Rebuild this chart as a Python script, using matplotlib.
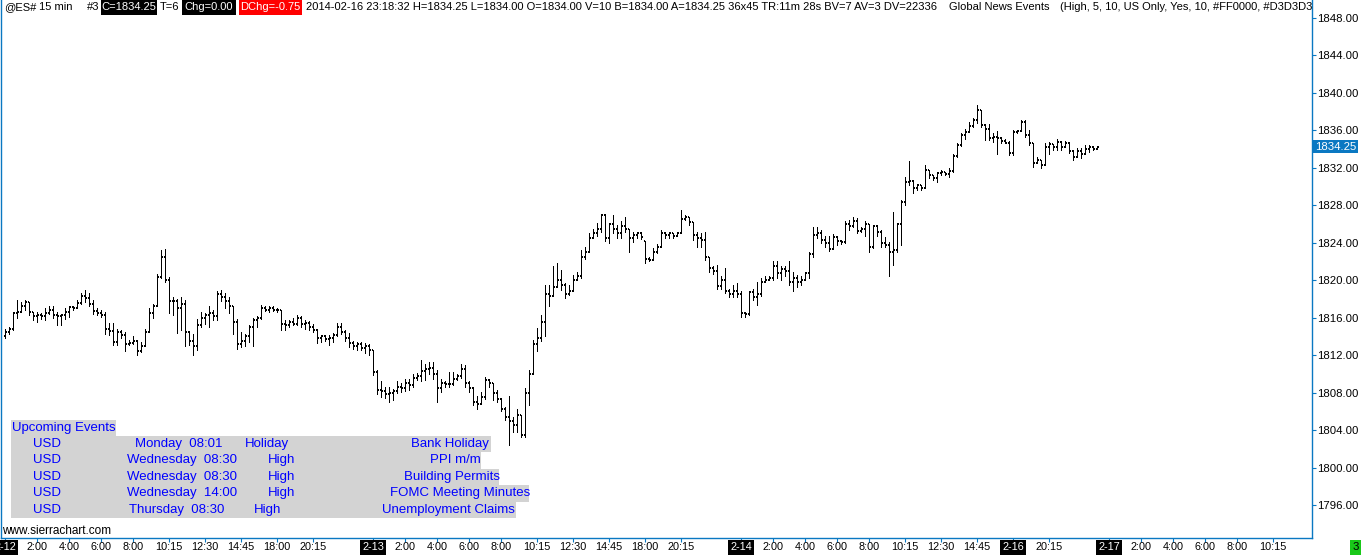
import matplotlib
matplotlib.use('Agg')
import matplotlib.pyplot as plt
from matplotlib.collections import LineCollection
from matplotlib.patches import Rectangle
import matplotlib.transforms as mtransforms

plt.rcParams['font.family'] = ['Liberation Sans', 'DejaVu Sans']

# ---------------- data (15-min bars, ES#) ----------------
bar_open = [
 1814.0, 1814.5, 1814.8, 1816.5, 1816.6, 1817.3, 1817.7, 1816.6, 1816.2, 1816.3,
 1816.2, 1816.5, 1816.8, 1816.3, 1816.2, 1816.3, 1816.6, 1817.1, 1817.0, 1817.6,
 1818.3, 1818.1, 1817.5, 1816.7, 1816.5, 1816.3, 1814.8, 1814.6, 1813.4, 1814.5,
 1814.1, 1813.2, 1813.3, 1813.5, 1812.4, 1813.0, 1814.5, 1816.5, 1817.2, 1820.3,
 1822.5, 1820.0, 1817.8, 1817.8, 1817.0, 1817.5, 1814.5, 1813.5, 1813.0, 1815.2,
 1816.0, 1816.3, 1816.5, 1816.2, 1818.5, 1818.2, 1817.8, 1817.2, 1815.5, 1813.2,
 1813.5, 1814.0, 1815.0, 1815.7, 1816.0, 1817.0, 1816.8, 1817.0, 1816.8, 1816.8,
 1815.3, 1815.2, 1815.5, 1815.3, 1816.0, 1815.3, 1815.4, 1815.0, 1814.7, 1813.8,
 1814.0, 1813.7, 1813.8, 1814.2, 1815.0, 1814.5, 1813.8, 1813.3, 1813.0, 1813.2,
 1812.8, 1813.0,
 1812.5, 1810.2, 1808.3, 1808.2, 1807.8, 1808.0, 1808.2, 1808.6,
 1808.5, 1809.0, 1808.8, 1809.6, 1809.8, 1810.3, 1810.5, 1810.6, 1810.0, 1808.5,
 1809.0, 1808.9, 1808.9, 1809.5, 1809.8, 1810.5, 1809.0, 1808.5, 1807.0, 1806.8,
 1807.5, 1809.3, 1809.0, 1808.0, 1807.3, 1806.3, 1805.4, 1805.0, 1804.5, 1805.6,
 1803.5, 1808.0, 1810.0, 1813.2, 1813.8, 1815.5, 1818.5, 1818.3, 1819.3, 1820.0,
 1819.5, 1818.5, 1818.8, 1820.0, 1820.5, 1822.5, 1823.0, 1824.5, 1825.0, 1825.5,
 1827.0, 1824.5, 1826.0, 1825.5, 1825.0, 1825.8, 1825.5, 1824.5, 1824.8, 1825.0,
 1824.2, 1822.3, 1822.2, 1823.0, 1823.5, 1825.0, 1824.8, 1825.0, 1824.7, 1825.0,
 1826.5, 1826.8, 1826.2, 1824.8, 1824.5, 1824.3, 1822.5, 1821.3, 1821.0, 1819.4,
 1820.0, 1818.8, 1818.5, 1818.8,
 1818.5, 1816.5, 1816.4, 1818.7, 1818.2, 1818.5,
 1819.8, 1820.0, 1820.2, 1821.5, 1820.8, 1821.2, 1821.0, 1819.8, 1820.2, 1819.8,
 1820.0, 1820.8, 1822.8, 1824.8, 1825.0, 1824.3, 1824.0, 1823.3, 1824.6, 1824.2,
 1824.1, 1826.0, 1825.8, 1826.3, 1825.3, 1825.5, 1826.0, 1823.5, 1825.8, 1825.2,
 1824.0, 1823.8, 1823.0, 1823.2, 1826.0, 1828.4, 1830.5, 1830.6, 1829.8, 1830.2,
 1829.8, 1831.8, 1831.2, 1830.9, 1831.4, 1831.6, 1831.3, 1831.7, 1833.3, 1834.4,
 1835.5, 1835.8, 1836.5, 1837.1, 1838.2, 1836.6, 1836.2, 1835.2, 1835.3, 1835.2,
 1834.9, 1834.7,
 1833.6, 1835.8, 1835.9, 1836.9, 1835.5, 1834.6, 1832.5, 1832.8,
 1832.3, 1834.2, 1834.5, 1834.2, 1834.8, 1834.2, 1834.6, 1833.8, 1833.2, 1833.8,
 1833.5, 1834.0, 1834.2, 1834.0,
]
bar_high = [
 1814.8, 1815.0, 1816.6, 1817.9, 1817.7, 1817.9, 1817.7, 1816.6, 1816.6, 1816.5,
 1817.0, 1817.3, 1817.2, 1816.6, 1816.4, 1817.0, 1817.3, 1817.3, 1817.9, 1818.6,
 1819.0, 1818.6, 1817.9, 1817.0, 1816.8, 1816.6, 1815.4, 1815.4, 1814.8, 1814.7,
 1814.5, 1813.6, 1814.0, 1813.6, 1813.4, 1814.8, 1817.0, 1817.5, 1820.7, 1823.2,
 1823.3, 1820.3, 1818.2, 1818.0, 1818.2, 1817.9, 1814.6, 1814.3, 1815.9, 1816.6,
 1816.5, 1817.3, 1816.8, 1818.8, 1819.0, 1818.6, 1818.2, 1817.2, 1815.9, 1814.5,
 1814.3, 1815.2, 1816.0, 1816.2, 1817.4, 1817.3, 1817.2, 1817.2, 1817.0, 1816.8,
 1815.8, 1815.8, 1816.0, 1816.3, 1816.2, 1815.7, 1815.6, 1815.3, 1814.8, 1814.2,
 1814.2, 1814.2, 1814.4, 1815.4, 1815.4, 1814.7, 1814.4, 1813.5, 1813.4, 1813.4,
 1813.3, 1813.2,
 1812.6, 1810.4, 1809.2, 1808.6, 1808.6, 1808.4, 1809.2, 1809.0,
 1809.5, 1809.5, 1810.0, 1810.1, 1811.5, 1811.1, 1811.3, 1811.3, 1810.4, 1809.5,
 1809.2, 1810.2, 1810.2, 1810.0, 1811.1, 1810.9, 1809.2, 1808.6, 1807.6, 1808.1,
 1809.7, 1809.5, 1809.0, 1808.3, 1807.4, 1806.5, 1807.6, 1805.4, 1806.3, 1805.6,
 1808.5, 1810.4, 1813.6, 1814.9, 1816.3, 1819.5, 1819.5, 1821.5, 1821.8, 1821.1,
 1819.7, 1819.5, 1820.6, 1820.9, 1823.2, 1823.6, 1825.0, 1825.5, 1826.1, 1827.1,
 1827.1, 1826.1, 1827.0, 1825.9, 1826.3, 1826.8, 1825.5, 1825.2, 1825.2, 1825.2,
 1824.2, 1822.5, 1823.4, 1823.9, 1825.4, 1825.2, 1825.1, 1825.0, 1825.2, 1827.5,
 1827.0, 1826.8, 1826.2, 1825.2, 1825.0, 1825.2, 1822.5, 1821.5, 1821.6, 1820.4,
 1821.3, 1819.1, 1819.5, 1819.7,
 1818.8, 1816.6, 1818.9, 1819.1, 1819.8, 1820.2,
 1820.4, 1820.4, 1822.0, 1822.0, 1821.5, 1821.5, 1822.0, 1820.9, 1820.6, 1820.4,
 1820.9, 1823.0, 1825.7, 1825.7, 1825.4, 1824.7, 1824.7, 1824.9, 1824.7, 1824.3,
 1826.3, 1826.4, 1826.8, 1826.6, 1825.7, 1826.3, 1826.0, 1825.9, 1825.9, 1825.4,
 1824.6, 1824.1, 1827.3, 1826.1, 1828.6, 1831.0, 1832.7, 1830.7, 1830.3, 1830.2,
 1832.3, 1831.8, 1831.2, 1831.6, 1831.8, 1831.6, 1832.0, 1833.5, 1834.6, 1835.7,
 1836.2, 1836.9, 1837.3, 1838.7, 1838.2, 1836.7, 1836.7, 1835.7, 1835.9, 1835.3,
 1835.1, 1834.9,
 1836.0, 1836.0, 1837.1, 1837.1, 1836.0, 1834.6, 1833.2, 1832.8,
 1834.6, 1834.8, 1834.5, 1835.1, 1834.9, 1834.9, 1834.8, 1833.9, 1834.1, 1834.1,
 1834.4, 1834.4, 1834.3, 1834.25,
]
bar_low = [
 1813.8, 1814.3, 1814.7, 1816.0, 1816.6, 1816.8, 1816.3, 1815.7, 1815.5, 1815.9,
 1815.7, 1816.4, 1816.0, 1815.2, 1815.2, 1815.9, 1816.1, 1816.8, 1817.0, 1817.5,
 1817.7, 1817.3, 1816.4, 1816.3, 1816.1, 1814.3, 1814.1, 1813.1, 1813.1, 1813.8,
 1812.4, 1813.1, 1813.2, 1812.0, 1812.3, 1813.0, 1814.5, 1816.0, 1817.2, 1820.2,
 1819.8, 1816.5, 1816.3, 1814.4, 1814.7, 1813.0, 1813.1, 1812.0, 1812.6, 1815.0,
 1815.3, 1815.0, 1815.7, 1815.7, 1817.8, 1817.0, 1816.5, 1814.3, 1812.7, 1812.9,
 1813.0, 1813.4, 1813.0, 1815.0, 1815.9, 1816.7, 1816.6, 1816.7, 1816.6, 1814.7,
 1814.7, 1815.0, 1815.2, 1815.2, 1815.0, 1814.8, 1814.7, 1814.5, 1813.3, 1813.4,
 1813.5, 1813.1, 1813.4, 1814.0, 1814.3, 1813.5, 1812.9, 1812.7, 1812.6, 1812.5,
 1812.2, 1812.0,
 1809.9, 1807.8, 1807.5, 1807.4, 1807.0, 1807.2, 1808.0, 1808.1,
 1808.2, 1808.3, 1808.6, 1809.3, 1809.2, 1809.3, 1810.0, 1809.4, 1807.0, 1808.1,
 1808.6, 1808.6, 1808.8, 1809.3, 1809.6, 1808.6, 1808.1, 1806.7, 1806.3, 1806.8,
 1807.3, 1808.6, 1807.2, 1807.0, 1806.0, 1805.1, 1802.4, 1803.8, 1803.8, 1803.3,
 1803.3, 1806.7, 1810.0, 1812.4, 1813.5, 1814.0, 1817.2, 1818.3, 1819.3, 1819.0,
 1818.1, 1818.4, 1818.8, 1820.0, 1820.2, 1822.3, 1823.0, 1824.5, 1824.7, 1825.2,
 1824.2, 1824.0, 1825.0, 1824.5, 1824.5, 1825.2, 1823.0, 1824.1, 1824.5, 1824.4,
 1821.8, 1822.0, 1822.2, 1822.9, 1823.5, 1824.5, 1824.5, 1824.5, 1824.7, 1825.0,
 1826.4, 1825.9, 1824.3, 1823.6, 1823.6, 1822.2, 1820.9, 1820.7, 1819.1, 1819.1,
 1818.6, 1818.2, 1818.2, 1818.2,
 1816.1, 1816.1, 1816.3, 1817.9, 1817.4, 1818.3,
 1819.8, 1820.0, 1820.0, 1820.2, 1820.0, 1820.4, 1819.5, 1818.8, 1819.3, 1819.5,
 1820.0, 1820.2, 1822.5, 1824.5, 1824.0, 1823.6, 1823.1, 1823.3, 1823.8, 1823.9,
 1824.0, 1825.4, 1825.7, 1825.0, 1825.2, 1824.7, 1823.0, 1823.4, 1824.7, 1823.6,
 1823.6, 1820.5, 1821.6, 1823.0, 1823.8, 1828.0, 1830.2, 1829.3, 1829.6, 1829.6,
 1829.8, 1830.9, 1830.7, 1830.5, 1831.2, 1831.2, 1831.0, 1831.6, 1833.2, 1834.3,
 1835.1, 1835.8, 1836.4, 1836.8, 1836.4, 1835.0, 1835.0, 1834.8, 1833.5, 1834.6,
 1834.6, 1833.4,
 1833.4, 1835.7, 1835.9, 1835.3, 1834.4, 1832.1, 1832.5, 1832.0,
 1832.3, 1833.5, 1833.9, 1833.9, 1833.9, 1834.2, 1833.6, 1832.8, 1833.2, 1833.0,
 1833.5, 1833.7, 1833.9, 1834.0,
]
bar_close = [
 1814.5, 1814.8, 1816.5, 1816.6, 1817.3, 1817.7, 1816.6, 1816.2, 1816.3, 1816.2,
 1816.5, 1816.8, 1816.3, 1816.2, 1816.3, 1816.6, 1817.1, 1817.0, 1817.6, 1818.3,
 1818.1, 1817.5, 1816.7, 1816.5, 1816.3, 1814.8, 1814.6, 1813.4, 1814.5, 1814.1,
 1813.2, 1813.3, 1813.5, 1812.4, 1813.0, 1814.5, 1816.5, 1817.2, 1820.3, 1822.5,
 1820.0, 1817.8, 1817.8, 1817.0, 1817.5, 1814.5, 1813.5, 1813.0, 1815.2, 1816.0,
 1816.3, 1816.5, 1816.2, 1818.5, 1818.2, 1817.8, 1817.2, 1815.5, 1813.2, 1813.5,
 1814.0, 1815.0, 1815.7, 1816.0, 1817.0, 1816.8, 1817.0, 1816.8, 1816.8, 1815.3,
 1815.2, 1815.5, 1815.3, 1816.0, 1815.3, 1815.4, 1815.0, 1814.7, 1813.8, 1814.0,
 1813.7, 1813.8, 1814.2, 1815.0, 1814.5, 1813.8, 1813.3, 1813.0, 1813.2, 1812.8,
 1813.0, 1812.5,
 1810.2, 1808.3, 1808.2, 1807.8, 1808.0, 1808.2, 1808.6, 1808.5,
 1809.0, 1808.8, 1809.6, 1809.8, 1810.3, 1810.5, 1810.6, 1810.0, 1808.5, 1809.0,
 1808.9, 1808.9, 1809.5, 1809.8, 1810.5, 1809.0, 1808.5, 1807.0, 1806.8, 1807.5,
 1809.3, 1809.0, 1808.0, 1807.3, 1806.3, 1805.4, 1805.0, 1804.5, 1805.6, 1803.5,
 1808.0, 1810.0, 1813.2, 1813.8, 1815.5, 1818.5, 1818.3, 1819.3, 1820.0, 1819.5,
 1818.5, 1818.8, 1820.0, 1820.5, 1822.5, 1823.0, 1824.5, 1825.0, 1825.5, 1827.0,
 1824.5, 1826.0, 1825.5, 1825.0, 1825.8, 1825.5, 1824.5, 1824.8, 1825.0, 1824.6,
 1822.3, 1822.2, 1823.0, 1823.5, 1825.0, 1824.8, 1825.0, 1824.7, 1825.0, 1826.5,
 1826.8, 1826.2, 1824.8, 1824.5, 1824.3, 1822.5, 1821.3, 1821.0, 1819.4, 1820.0,
 1818.8, 1818.5, 1818.8, 1818.5,
 1816.5, 1816.4, 1818.7, 1818.2, 1818.5, 1819.8,
 1820.0, 1820.2, 1821.5, 1820.8, 1821.2, 1821.0, 1819.8, 1820.2, 1819.8, 1820.0,
 1820.8, 1822.8, 1824.8, 1825.0, 1824.3, 1824.0, 1823.3, 1824.6, 1824.2, 1824.1,
 1826.0, 1825.8, 1826.3, 1825.3, 1825.5, 1826.0, 1823.5, 1825.8, 1825.2, 1824.0,
 1823.8, 1823.0, 1823.2, 1826.0, 1828.4, 1830.5, 1830.6, 1829.8, 1830.2, 1829.8,
 1831.8, 1831.2, 1830.9, 1831.4, 1831.6, 1831.3, 1831.7, 1833.3, 1834.4, 1835.5,
 1835.8, 1836.5, 1837.1, 1838.2, 1836.6, 1836.2, 1835.2, 1835.3, 1835.2, 1834.9,
 1834.7, 1833.6,
 1835.8, 1835.9, 1836.9, 1835.5, 1834.6, 1832.5, 1832.8, 1832.3,
 1834.2, 1834.5, 1834.2, 1834.8, 1834.2, 1834.6, 1833.8, 1833.2, 1833.8, 1833.5,
 1834.0, 1834.2, 1834.0, 1834.25,
]

price_ticks = [1796, 1800, 1804, 1808, 1812, 1816, 1820, 1824, 1828, 1832, 1836, 1840, 1844, 1848]
date_tick_idx = [0, 92, 184, 252, 276]
date_tick_lbl = ['2-12', '2-13', '2-14', '2-16', '2-17']
time_tick_idx = [8, 16, 24, 32, 41, 50, 59, 68, 77,
                 100, 108, 116, 124, 133, 142, 151, 160, 169,
                 192, 200, 208, 216, 225, 234, 243,
                 261,
                 284, 292, 300, 308, 317]
time_tick_lbl = ['2:00', '4:00', '6:00', '8:00', '10:15', '12:30', '14:45', '18:00', '20:15',
                 '2:00', '4:00', '6:00', '8:00', '10:15', '12:30', '14:45', '18:00', '20:15',
                 '2:00', '4:00', '6:00', '8:00', '10:15', '12:30', '14:45',
                 '20:15',
                 '2:00', '4:00', '6:00', '8:00', '10:15']

event_currency = ['USD', 'USD', 'USD', 'USD', 'USD']
event_when = ['Monday  08:01', 'Wednesday  08:30', 'Wednesday  08:30', 'Wednesday  14:00', 'Thursday  08:30']
event_impact = ['Holiday', 'High', 'High', 'High', 'High']
event_title = ['Bank Holiday', 'PPI m/m', 'Building Permits', 'FOMC Meeting Minutes', 'Unemployment Claims']

# ---------------- layout ----------------
W, H = 1362, 556
fig = plt.figure(figsize=(W / 100, H / 100), dpi=100)
fig.patch.set_facecolor('white')
renderer = fig.canvas.get_renderer()
BLUE = '#0a78c2'
TXTBLUE = '#0000ff'
GRAY = '#d3d3d3'

AX_L, AX_R, AX_B = 1, 1312, 538
ax = fig.add_axes([AX_L / W, 1 - AX_B / H, (AX_R - AX_L) / W, AX_B / H])
PX_BAR = 4.0
FIRST_PX = 5.0
xmin = -(FIRST_PX - AX_L) / PX_BAR
ax.set_xlim(xmin, xmin + (AX_R - AX_L) / PX_BAR)
PX_PT = 9.365
ytop = price_ticks[-1] + 18 / PX_PT
ax.set_ylim(ytop - AX_B / PX_PT, ytop)
ax.set_facecolor('white')

n = min(len(bar_open), len(bar_high), len(bar_low), len(bar_close))
wick_segs = [[(i, bar_low[i]), (i, bar_high[i])] for i in range(n)]
tick_segs = []
for i in range(n):
    tick_segs.append([(i - 0.375, bar_open[i]), (i, bar_open[i])])
    tick_segs.append([(i, bar_close[i]), (i + 0.375, bar_close[i])])
ax.add_collection(LineCollection(wick_segs, colors='black', linewidths=0.72,
                                 antialiaseds=False, capstyle='butt'))
ax.add_collection(LineCollection(tick_segs, colors='black', linewidths=1.44,
                                 antialiaseds=False, capstyle='butt'))

ax.spines['top'].set_visible(False)
for side in ['left', 'right', 'bottom']:
    ax.spines[side].set_color(BLUE)
    ax.spines[side].set_linewidth(1.0)

ax.yaxis.tick_right()
ax.set_yticks(price_ticks)
ax.set_yticklabels(['%.2f' % p for p in price_ticks])
ax.tick_params(axis='y', direction='out', length=3, width=0.8, color=BLUE,
               pad=1, labelsize=8.2, labelcolor='black')
ax.set_xticks(date_tick_idx + time_tick_idx)
ax.set_xticklabels([])
ax.tick_params(axis='x', direction='out', length=3, width=0.8, color=BLUE)

blend = mtransforms.blended_transform_factory(ax.transData, fig.transFigure)
LBL_Y = 1 - 547.5 / H
for i, s in zip(time_tick_idx, time_tick_lbl):
    ax.text(i, LBL_Y, s, transform=blend, ha='center', va='center', fontsize=7.8,
            color='black', clip_on=False)
for i, s in zip(date_tick_idx, date_tick_lbl):
    ax.text(i, LBL_Y, s, transform=blend, ha='center', va='center', fontsize=7.8,
            color='white', clip_on=False,
            bbox=dict(boxstyle='square,pad=0.2', fc='black', ec='none'))

# last price marker
blend_y = mtransforms.blended_transform_factory(ax.transAxes, ax.transData)
ax.text(1.0 + 3 / (AX_R - AX_L), bar_close[n - 1], '%.2f' % bar_close[n - 1],
        transform=blend_y, ha='left', va='center', fontsize=8.2, color='white',
        clip_on=False, bbox=dict(boxstyle='square,pad=0.15', fc=BLUE, ec='none'))


def rect(x0, y0, x1, y1, color, z=1):
    fig.add_artist(Rectangle((x0 / W, 1 - y1 / H), (x1 - x0) / W, (y1 - y0) / H,
                             transform=fig.transFigure, facecolor=color,
                             edgecolor='none', zorder=z))


def fit_size(s, width, base=10.0):
    t = fig.text(0, 0, s, fontsize=base)
    w = t.get_window_extent(renderer=renderer).width
    t.remove()
    return base * width / w


def put(s, x, yc, size, color='black', ha='left'):
    return fig.text(x / W, 1 - yc / H, s, fontsize=size, color=color,
                    ha=ha, va='center', zorder=5)


# header line
HY = 7.5
HS = fit_size('2014-02-16 23:18:32 H=1834.25 L=1834.00 O=1834.00 V=10 B=1834.00 '
              'A=1834.25 36x45 TR:11m 28s BV=7 AV=3 DV=22336', 937 - 306)
rect(101, 0, 157, 15, 'black')
rect(182, 0, 236, 15, 'black')
rect(239, 0, 302, 15, '#ff0000')
put('@ES#', 4, HY, HS)
put('15 min', 39, HY, HS)
put('#3', 87, HY, HS)
put('C=1834.25', 129, HY, HS, 'white', 'center')
put('T=6', 160, HY, HS)
put('Chg=0.00', 209, HY, HS, 'white', 'center')
put('DChg=-0.75', 270.5, HY, HS, 'white', 'center')
put('2014-02-16 23:18:32 H=1834.25 L=1834.00 O=1834.00 V=10 B=1834.00 '
    'A=1834.25 36x45 TR:11m 28s BV=7 AV=3 DV=22336', 306, HY, HS)
put('Global News Events', 949, HY, HS)
put('(High, 5, 10, US Only, Yes, 10, #FF0000, #D3D3D3', 1060, HY, HS)

# upcoming events table
TS = fit_size('Wednesday  08:30', 237.6 - 126.7)
rect(11.4, 420, 116.4, 435.7, GRAY)
put('Upcoming Events', 12, 428, TS, TXTBLUE)
when_x = [178.5, 182.1, 182.1, 182.1, 176.9]
imp_x = [266.9, 281.7, 281.7, 281.7, 267.8]
title_x = [(409.8, 490.7), (430.4, 481.0), (404.0, 499.3), (391.9, 529.3), (381.2, 515.5)]
ROW_H = 16.5
for r in range(len(event_title)):
    top = 435.7 + ROW_H * r
    rect(11.4, top, title_x[r][1], top + ROW_H, GRAY)
    yc = top + ROW_H / 2
    put(event_currency[r], 46.5, yc, TS, TXTBLUE, 'center')
    put(event_when[r], when_x[r], yc, TS, TXTBLUE, 'center')
    put(event_impact[r], imp_x[r], yc, TS, TXTBLUE, 'center')
    put(event_title[r], (title_x[r][0] + title_x[r][1]) / 2, yc, TS, TXTBLUE, 'center')

put('www.sierrachart.com', 2, 530.5, fit_size('www.sierrachart.com', 110))

# green box bottom-right
rect(1350, 540, 1361, 555, '#19c819')
put('3', 1355.5, 547.5, 8.2, 'black', 'center')

fig.savefig('out.png', dpi=100, facecolor='white')
